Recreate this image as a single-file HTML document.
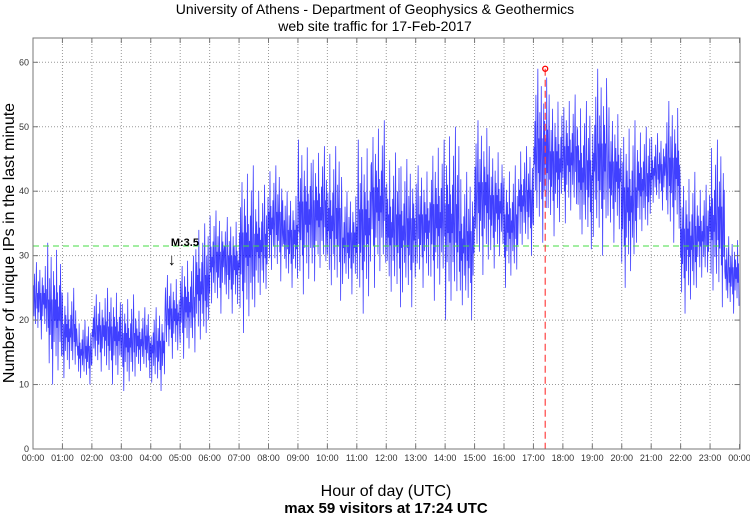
<!DOCTYPE html>
<html><head><meta charset="utf-8"><style>
html,body{margin:0;padding:0;background:#fff;}
svg{display:block;font-family:"Liberation Sans","DejaVu Sans",sans-serif;}
</style></head><body>
<svg id="chart" width="750" height="515" viewBox="0 0 750 515">
<text x="375" y="14" text-anchor="middle" font-size="14">University of Athens - Department of Geophysics &amp; Geothermics</text>
<text x="375" y="31" text-anchor="middle" font-size="14">web site traffic for 17-Feb-2017</text>
<text transform="translate(14,243) rotate(-90)" text-anchor="middle" font-size="16">Number of unique IPs in the last minute</text>
<text x="386" y="496" text-anchor="middle" font-size="16">Hour of day (UTC)</text>
<text x="386" y="513" text-anchor="middle" font-size="15" font-weight="bold">max 59 visitors at 17:24 UTC</text>
<g id="grid"></g>
<g id="series"></g>
<g id="annot"></g>
<rect x="33" y="38" width="707" height="411" fill="none" stroke="#777" stroke-width="1"/>
<g id="axes"></g>
</svg>
<script>
const hourLabels = ["00:00","01:00","02:00","03:00","04:00","05:00","06:00","07:00","08:00","09:00","10:00","11:00","12:00","13:00","14:00","15:00","16:00","17:00","18:00","19:00","20:00","21:00","22:00","23:00","00:00"];
const yTicks = [0,10,20,30,40,50,60];
// per half-hour interval: low and high values of unique IPs
const lowVals = [17,10,11,10,12,10,9,11,9,14,14,15,21,21,18,22,26,25,24,26,23,24,21,25,22,22,25,23,20,20,27,28,25,30,32,33,35,31,30,32,25,32,37,32,21,25,22,21];
const highVals = [29,32,25,20,24,25,24,22,22,27,30,35,37,36,44,41,44,40,48,47,47,40,48,51,46,45,44,48,50,43,51,47,44,47,59,55,55,54,59,53,51,50,49,54,43,41,48,33];
const meanLine = 31.5;
const maxValue = 59;
const maxMinute = 17*60+24;
const markerMinute = 4*60+45;
const markerLabel = "M:3.5";

const NS="http://www.w3.org/2000/svg";
const X0=33,X1=739.5,Y0=449,Y60=62.3;
const xs=m=>X0+(X1-X0)*m/1440;
const ys=v=>Y0+(Y60-Y0)*v/60;
function mk(tag,attrs,parent){const e=document.createElementNS(NS,tag);for(const k in attrs)e.setAttribute(k,attrs[k]);parent.appendChild(e);return e;}
const grid=document.getElementById('grid'),axes=document.getElementById('axes'),series=document.getElementById('series'),annot=document.getElementById('annot');
yTicks.forEach(v=>{
  const y=ys(v);
  if(v>0){const g=mk('line',{x1:X0,x2:X1,y1:y,y2:y,stroke:'#999','stroke-dasharray':'1,2'},grid);
  
  }
  const t=mk('text',{x:X0-4,y:y+3,'text-anchor':'end','font-size':9,fill:'#333'},axes);t.textContent=v;
  
  
  mk('line',{x1:X0,x2:X0+5,y1:y,y2:y,stroke:'#777'},axes);
  mk('line',{x1:X1-5,x2:X1,y1:y,y2:y,stroke:'#777'},axes);
});
hourLabels.forEach((h,i)=>{
  const x=xs(i*60);
  if(i>0&&i<24){const g=mk('line',{x1:x,x2:x,y1:38,y2:Y0,stroke:'#999','stroke-dasharray':'1,2'},grid);
  
  }
  mk('line',{x1:x,x2:x,y1:Y0,y2:Y0-5,stroke:'#777'},axes);
  mk('line',{x1:x,x2:x,y1:38,y2:43,stroke:'#777'},axes);
  const t=mk('text',{x:x,y:461,'text-anchor':'middle','font-size':9,fill:'#333'},axes);t.textContent=h;
  
  
});
const pat=[0.45,0.7,0.3,0.85,0.5,0.2,0.65,1.0,0.4,0.6,0.15,0.75,0.35,0.55,0.9,0.25,0.6,0.0,0.5,0.8,0.3,0.7,0.45,0.6,0.2,0.95,0.4,0.65,0.1,0.55];
let pts=[];
lowVals.forEach((lo,i)=>{
  const hi=highVals[i];
  for(let k=0;k<30;k++){
    const v=lo+(hi-lo)*pat[(k+i*7)%pat.length];
    pts.push(xs(i*30+k).toFixed(2)+','+ys(v).toFixed(2));
  }
});
const pl=mk('polyline',{points:pts.join(' '),fill:'none',stroke:'#0000ff','stroke-width':0.8,'stroke-opacity':0.75},series);


const ml=mk('line',{x1:X0,x2:X1,y1:ys(meanLine),y2:ys(meanLine),stroke:'#44dd44','stroke-dasharray':'6,4'},annot);


const mx=xs(maxMinute);
const rl=mk('line',{x1:mx,x2:mx,y1:ys(maxValue),y2:Y0,stroke:'#ff4444','stroke-dasharray':'7,4','stroke-width':1.2},annot);


const c=mk('circle',{cx:mx,cy:ys(maxValue),r:2.5,fill:'none',stroke:'#ff0000','stroke-width':1.3},annot);


const ex=xs(markerMinute);
const et=mk('text',{x:ex-2,y:ys(meanLine),'font-size':11,'font-weight':'bold'},annot);et.textContent=markerLabel;


const ea=mk('text',{x:ex-1,y:ys(meanLine)+19,'font-size':16,'text-anchor':'middle'},annot);ea.textContent='↓';


</script>
</body></html>
